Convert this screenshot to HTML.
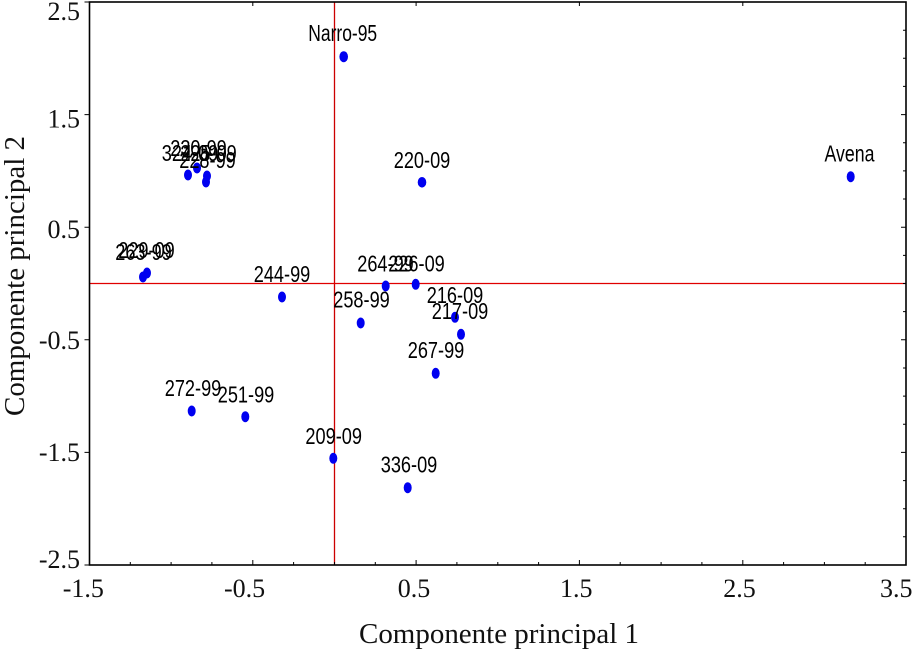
<!DOCTYPE html>
<html>
<head>
<meta charset="utf-8">
<style>
  html, body { margin:0; padding:0; background:#fff; }
  svg { display:block; }
  .tk { font-family:"Liberation Serif", serif; font-size:26px; fill:#111; }
  .ttl { font-family:"Liberation Serif", serif; font-size:29px; fill:#111; }
  .lb { font-family:"Liberation Sans", sans-serif; font-size:23px; fill:#000; }
</style>
</head>
<body>
<svg width="916" height="653" viewBox="0 0 916 653" xmlns="http://www.w3.org/2000/svg">
  <rect x="0" y="0" width="916" height="653" fill="#fff"/>

  <!-- reference lines -->
  <line x1="334.5" y1="2" x2="334.5" y2="565" stroke="#cc0000" stroke-width="1.3"/>
  <line x1="89.5" y1="283.5" x2="906" y2="283.5" stroke="#e00000" stroke-width="1.3"/>

  <!-- ticks -->
  <g stroke="#000" stroke-width="1">
    <path d="M130.3 565v-3M171.1 565v-3M211.9 565v-3M252.8 565v-5M293.6 565v-3M334.5 565v-3M375.3 565v-3M416.1 565v-5M456.9 565v-3M497.8 565v-3M538.6 565v-3M579.4 565v-5M620.2 565v-3M661.1 565v-3M701.9 565v-3M742.8 565v-5M783.6 565v-3M824.4 565v-3M865.2 565v-3"/>
    <path d="M252.8 2v4M416.1 2v4M579.4 2v4M742.8 2v4"/>
    <path d="M89.5 114.6h-5M89.5 227.2h-5M89.5 339.8h-5M89.5 452.4h-5M89.5 565h-5M89.5 2h-5"/>
    <path d="M906 30.2h-3M906 58.3h-3M906 86.4h-3M906 114.6h-5M906 142.8h-3M906 170.9h-3M906 199h-3M906 227.2h-5M906 255.4h-3M906 283.5h-3M906 311.6h-3M906 339.8h-5M906 368h-3M906 396.1h-3M906 424.2h-3M906 452.4h-5M906 480.6h-3M906 508.7h-3M906 536.8h-3"/>
  </g>

  <!-- frame -->
  <rect x="89.5" y="2" width="816.5" height="563" fill="none" stroke="#000" stroke-width="1.6"/>

  <!-- y tick labels -->
  <g class="tk" text-anchor="end">
    <text x="80" y="20">2.5</text>
    <text x="80" y="127.5">1.5</text>
    <text x="80" y="238">0.5</text>
    <text x="80" y="349">-0.5</text>
    <text x="80" y="461">-1.5</text>
    <text x="80" y="568">-2.5</text>
  </g>
  <!-- x tick labels -->
  <g class="tk">
    <text x="62.7" y="597">-1.5</text>
    <text x="224" y="597">-0.5</text>
    <text x="397.7" y="597">0.5</text>
    <text x="560" y="597">1.5</text>
    <text x="723.3" y="597">2.5</text>
    <text x="880" y="597">3.5</text>
  </g>

  <!-- axis titles -->
  <text class="ttl" x="359" y="643" textLength="280" lengthAdjust="spacingAndGlyphs">Componente principal 1</text>
  <text class="ttl" transform="translate(24,276) rotate(-90)" text-anchor="middle" textLength="280" lengthAdjust="spacingAndGlyphs">Componente principal 2</text>

  <!-- points -->
  <g fill="#0000f0">
    <ellipse cx="850.7" cy="176.7" rx="4" ry="5.5"/>
    <ellipse cx="422" cy="182.3" rx="4.3" ry="5.3"/>
    <ellipse cx="343.7" cy="56.7" rx="4.3" ry="5.5"/>
    <ellipse cx="282" cy="297" rx="4" ry="5.5"/>
    <ellipse cx="385.7" cy="286" rx="4" ry="5.5"/>
    <ellipse cx="415.7" cy="284.3" rx="4" ry="5.5"/>
    <ellipse cx="360.7" cy="323" rx="4" ry="5.5"/>
    <ellipse cx="455" cy="317.3" rx="4" ry="5.5"/>
    <ellipse cx="461" cy="334.3" rx="4" ry="5.5"/>
    <ellipse cx="435.7" cy="373.3" rx="4" ry="5.5"/>
    <ellipse cx="191.7" cy="411" rx="4" ry="5.5"/>
    <ellipse cx="245.3" cy="416.7" rx="4" ry="5.5"/>
    <ellipse cx="333.3" cy="458.3" rx="4" ry="5.5"/>
    <ellipse cx="407.7" cy="487.7" rx="4" ry="5.5"/>
    <ellipse cx="188" cy="175" rx="4" ry="5.5"/>
    <ellipse cx="197" cy="168" rx="4" ry="5.5"/>
    <ellipse cx="206" cy="182" rx="4" ry="5.5"/>
    <ellipse cx="207" cy="176" rx="4" ry="5.5"/>
    <ellipse cx="143" cy="277" rx="4" ry="5.5"/>
    <ellipse cx="147" cy="273" rx="4" ry="5.5"/>
  </g>

  <!-- point labels -->
  <g class="lb" text-anchor="middle">
    <text transform="translate(849.5,161.7) scale(0.77,1)">Avena</text>
    <text transform="translate(422,168) scale(0.79,1)">220-09</text>
    <text transform="translate(342.7,41) scale(0.76,1)">Narro-95</text>
    <text transform="translate(282,282) scale(0.79,1)">244-99</text>
    <text transform="translate(385.5,271.7) scale(0.79,1)">264-99</text>
    <text transform="translate(416.5,271.7) scale(0.79,1)">226-09</text>
    <text transform="translate(361.5,307.7) scale(0.79,1)">258-99</text>
    <text transform="translate(455,303) scale(0.79,1)">216-09</text>
    <text transform="translate(460,319) scale(0.79,1)">217-09</text>
    <text transform="translate(436,358) scale(0.79,1)">267-99</text>
    <text transform="translate(193,396) scale(0.79,1)">272-99</text>
    <text transform="translate(246,402.3) scale(0.79,1)">251-99</text>
    <text transform="translate(333.7,444) scale(0.79,1)">209-09</text>
    <text transform="translate(409,472.7) scale(0.79,1)">336-09</text>
    <text transform="translate(190,161) scale(0.79,1)">324-09</text>
    <text transform="translate(198.5,156) scale(0.79,1)">230-99</text>
    <text transform="translate(207.5,168) scale(0.79,1)">228-99</text>
    <text transform="translate(208.5,161) scale(0.79,1)">225-09</text>
    <text transform="translate(143.5,260) scale(0.79,1)">263-99</text>
    <text transform="translate(146.5,258) scale(0.79,1)">229-09</text>
  </g>
</svg>
</body>
</html>
